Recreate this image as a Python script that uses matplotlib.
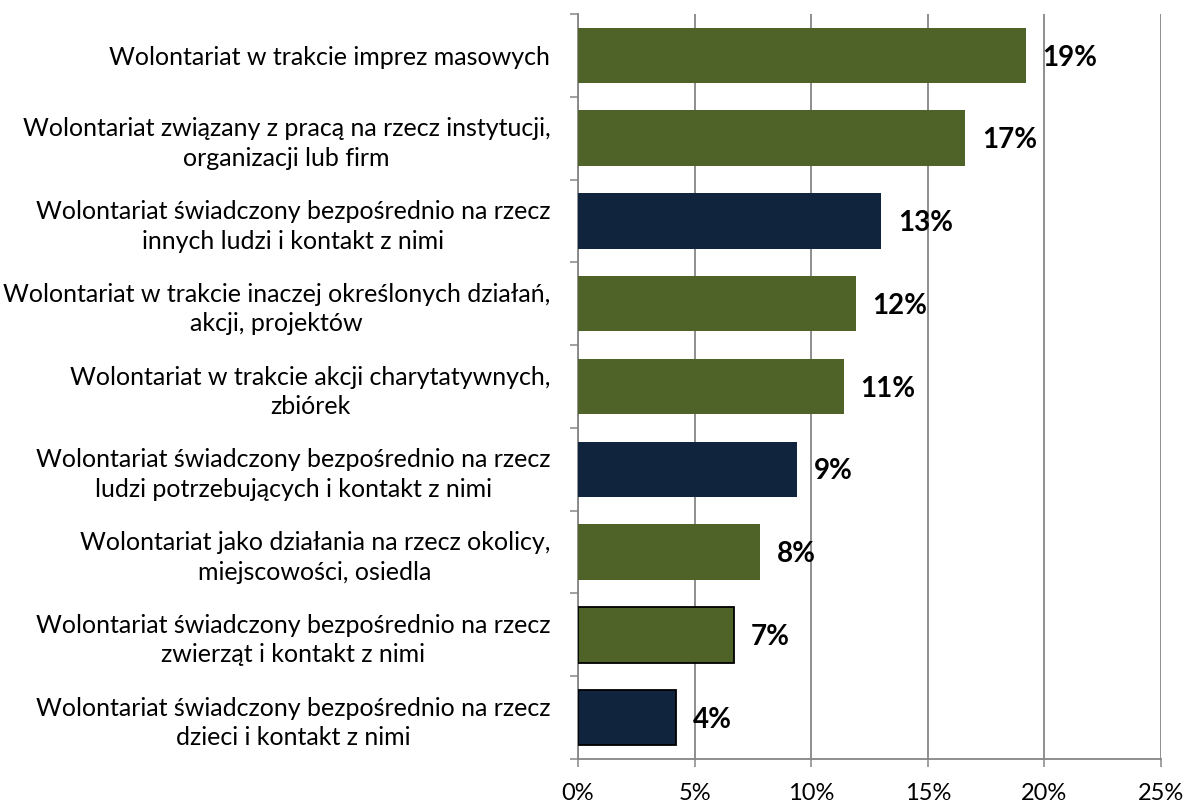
import numpy as np
import matplotlib.pyplot as plt

plt.rcParams['font.family'] = ['Lato', 'DejaVu Sans']

categories = [
    "Wolontariat w trakcie imprez masowych",
    "Wolontariat związany z pracą na rzecz instytucji,\norganizacji lub firm",
    "Wolontariat świadczony bezpośrednio na rzecz\ninnych ludzi i kontakt z nimi",
    "Wolontariat w trakcie inaczej określonych działań,\nakcji, projektów",
    "Wolontariat w trakcie akcji charytatywnych,\nzbiórek",
    "Wolontariat świadczony bezpośrednio na rzecz\nludzi potrzebujących i kontakt z nimi",
    "Wolontariat jako działania na rzecz okolicy,\nmiejscowości, osiedla",
    "Wolontariat świadczony bezpośrednio na rzecz\nzwierząt i kontakt z nimi",
    "Wolontariat świadczony bezpośrednio na rzecz\ndzieci i kontakt z nimi",
]
values = [19.2, 16.6, 13.0, 11.9, 11.4, 9.4, 7.8, 6.7, 4.2]
value_labels = ["19%", "17%", "13%", "12%", "11%", "9%", "8%", "7%", "4%"]
colors = ["#4F6228", "#4F6228", "#10243E", "#4F6228", "#4F6228",
          "#10243E", "#4F6228", "#4F6228", "#10243E"]
edges = ["none", "none", "none", "none", "none", "none", "none", "black", "black"]

fig = plt.figure(figsize=(11.86, 8.02), dpi=100)
ax = fig.add_axes([0.4874, 0.0536, 0.4916, 0.9289])

y = np.arange(len(categories))
ax.barh(y, values, height=0.67, color=colors, edgecolor=edges, linewidth=1.3, zorder=3)

for yi, v, lab in zip(y, values, value_labels):
    ax.annotate(lab, (v, yi), xytext=(12, -1.5), textcoords="offset points",
                ha="left", va="center", fontsize=20, fontweight="bold", zorder=4)

ax.set_xlim(0, 25)
ax.set_ylim(len(categories) - 0.5, -0.5)
ax.set_xticks(np.arange(0, 26, 5))
ax.set_xticklabels(["%d%%" % t for t in range(0, 26, 5)], fontsize=17)
ax.grid(axis="x", color="#868686", linewidth=1.3, zorder=0)

ax.set_yticks(y)
ax.set_yticklabels(categories, fontsize=18, multialignment="center", linespacing=1.35)
ax.set_yticks(np.arange(-0.5, len(categories), 1), minor=True)
ax.tick_params(axis="y", which="major", length=0, pad=20)
ax.tick_params(axis="y", which="minor", length=6, width=1.1, color="#868686")
ax.tick_params(axis="x", length=6, width=1.1, color="#868686", pad=11)

for s in ["top", "right"]:
    ax.spines[s].set_visible(False)
for s in ["left", "bottom"]:
    ax.spines[s].set_color("#868686")
    ax.spines[s].set_linewidth(1.3)

fig.savefig("out.png", dpi=100)
